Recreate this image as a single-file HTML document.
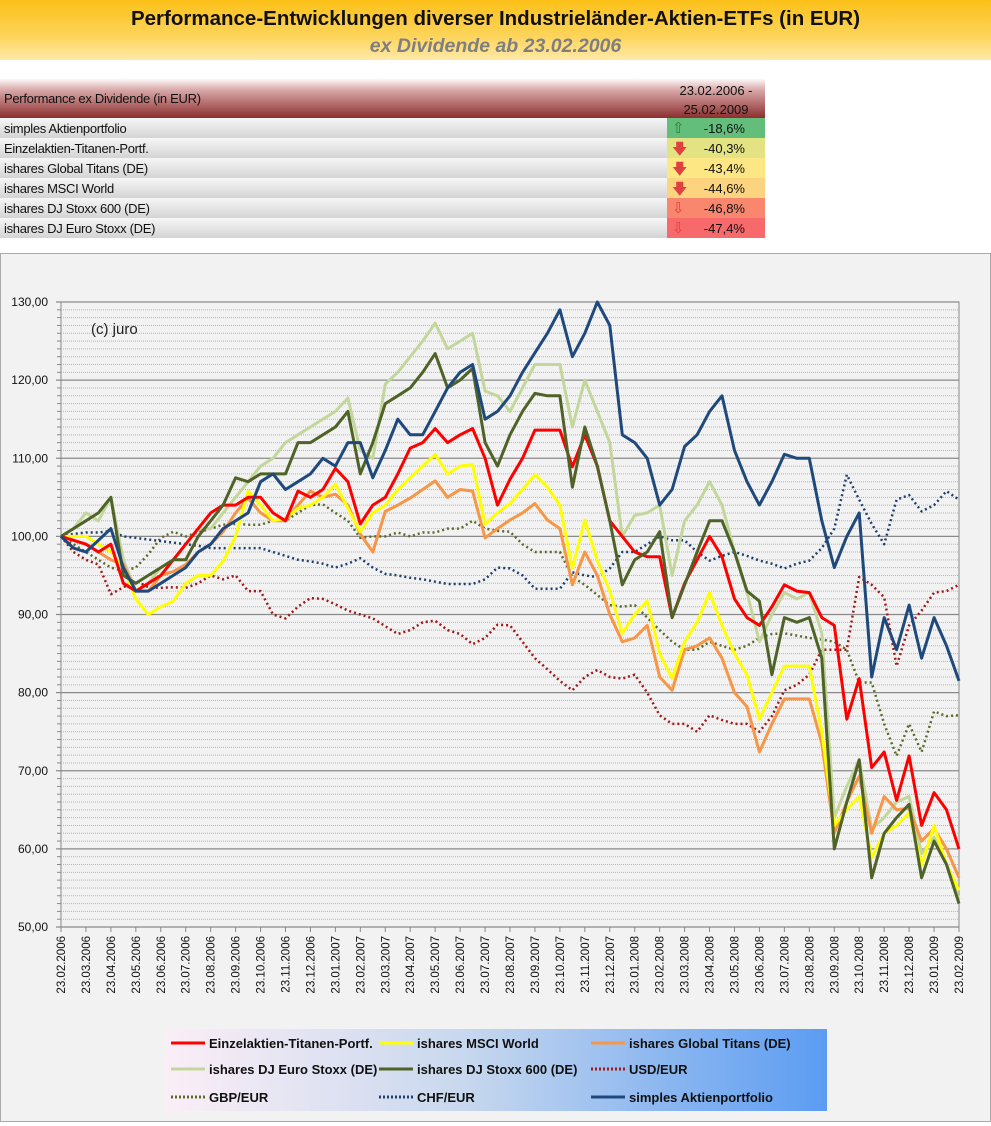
<!DOCTYPE html>
<html><head><meta charset="utf-8">
<style>
body{margin:0;width:991px;height:1122px;background:#fff;font-family:"Liberation Sans",sans-serif;position:relative;overflow:hidden}
#hdr{position:absolute;left:0;top:0;width:991px;height:60px;background:linear-gradient(#fcc018,#fdd45a 60%,#ffe9a8);text-align:center}
#hdr .t{position:absolute;left:0;right:0;top:7px;font-weight:bold;font-size:20.5px;color:#111}
#hdr .s{position:absolute;left:0;right:0;top:35px;font-weight:bold;font-style:italic;font-size:19.5px;color:#7f7f7f}
#tbl{position:absolute;left:0;top:78px;width:765px;font-size:13px;color:#111}
.hrow{height:40px;background:linear-gradient(#fff 0%,#d8a8a8 30%,#8c2e2e 100%);position:relative}
.row{height:20px;background:linear-gradient(#f6f6f6,#d4d4d4);position:relative;border-top:0}
.lab{position:absolute;left:4px;top:3px;letter-spacing:-0.3px}
.val{position:absolute;left:667px;width:98px;top:0;height:20px;text-align:right}
.val span{position:absolute;right:20px;top:3px}
.val i{position:absolute;left:5px;top:1px;font-style:normal;font-size:15px}
#chart{position:absolute;left:0;top:253px;width:989px;height:867px;background:#f2f2f2;border:1px solid #aaa}
</style></head><body>
<div id="hdr">
<div class="t">Performance-Entwicklungen diverser Industrieländer-Aktien-ETFs (in EUR)</div>
<div class="s">ex Dividende ab 23.02.2006</div>
</div>
<div id="tbl">
<div class="hrow"><div class="lab" style="top:13px">Performance ex Dividende (in EUR)</div><div style="position:absolute;left:667px;width:98px;top:3px;text-align:center;line-height:19px">23.02.2006 -<br>25.02.2009</div></div>
<div class="row"><div class="lab">simples Aktienportfolio</div><div class="val" style="background:#63be7b"><i style="color:#2e7d32">⇧</i><span>-18,6%</span></div></div>
<div class="row"><div class="lab">Einzelaktien-Titanen-Portf.</div><div class="val" style="background:#e3e383"><i style="color:#e04040">🡇</i><span>-40,3%</span></div></div>
<div class="row"><div class="lab">ishares Global Titans (DE)</div><div class="val" style="background:#fde784"><i style="color:#e04040">🡇</i><span>-43,4%</span></div></div>
<div class="row"><div class="lab">ishares MSCI World</div><div class="val" style="background:#fcd37f"><i style="color:#e04040">🡇</i><span>-44,6%</span></div></div>
<div class="row"><div class="lab">ishares DJ Stoxx 600 (DE)</div><div class="val" style="background:#f8876e"><i style="color:#e04040">⇩</i><span>-46,8%</span></div></div>
<div class="row"><div class="lab">ishares DJ Euro Stoxx (DE)</div><div class="val" style="background:#f8696b"><i style="color:#e04040">⇩</i><span>-47,4%</span></div></div>
</div>
<div id="chart">
<svg id="svg" width="989" height="867" xmlns="http://www.w3.org/2000/svg"></svg>
</div>
<script>
const dates=["23.02.2006","23.03.2006","23.04.2006","23.05.2006","23.06.2006","23.07.2006","23.08.2006","23.09.2006","23.10.2006","23.11.2006","23.12.2006","23.01.2007","23.02.2007","23.03.2007","23.04.2007","23.05.2007","23.06.2007","23.07.2007","23.08.2007","23.09.2007","23.10.2007","23.11.2007","23.12.2007","23.01.2008","23.02.2008","23.03.2008","23.04.2008","23.05.2008","23.06.2008","23.07.2008","23.08.2008","23.09.2008","23.10.2008","23.11.2008","23.12.2008","23.01.2009","23.02.2009"];
const yTicks=[50,60,70,80,90,100,110,120,130];
const usd=[100,98,97,96.4,92.6,93.5,94.3,93.5,93.4,93.5,93.4,94,95,94.5,95,93,93,90,89.5,91,92.1,92,91.3,90.5,90,89.5,88.5,87.5,88,89,89.2,88,87.5,86.2,87,88.7,88.6,86.5,84.4,83,81.5,80.3,82,82.9,82,81.8,82.3,80,77.1,76,76,75,77.1,76.5,76,76,75,77,80.3,81,82.3,85.5,85.5,85.5,94.8,93.8,92.2,83.4,88.6,90.5,92.8,93,93.8];
const gbp=[100,99,98,97,96,95.6,96,97.7,99.8,100.6,100,100.5,101,101.5,101.6,101.5,101.5,102,102,103,104,104.1,103,102,99.8,100,100,100.5,100,100.5,100.5,101,101,102,101,100.7,100.6,99,98,98,98,94.8,93.8,92.5,91.2,91,91.2,89.6,88,86.5,85.5,85.5,86.5,86,85.5,86,87,87.5,87.6,87.3,87,86.8,86.5,85.5,81.3,81.3,76,71.9,76,72.4,77.6,77,77.1];
const chf=[100,100.3,100.5,100.5,100.7,100,99.8,99.6,99.4,99.2,99,98.8,98.5,98.5,98.5,98.5,98.5,98,97.5,97,96.8,96.5,96,96.5,97.2,96,95.2,95,94.7,94.5,94.2,93.9,93.9,93.9,94.5,96,95.9,95,93.3,93.3,93.3,95.4,95,94.8,95.9,98,98,99,100,99.5,99.5,98,96.9,97.5,98,97.5,96.9,96.5,95.9,96.5,96.9,98.5,101,107.9,104.7,101.6,99,104.7,105.3,103.2,104,105.8,104.7];
const euroStoxx=[100,101,103,102,105,97,93,94,96,97,99,101,101,103,105,107,109,110,112,113,114,115,116,117.7,111,110,119.5,121,123,125,127.3,124,125,126,118.6,118,116,119,122,122,122,114,120,116,112,100,102.7,103,104,95,102,104,107,104,98,92.8,86.5,90,92.8,92,92.8,87.6,64,68,71.4,62.6,64,66,66.7,59.4,61.5,58,53.5];
const globalTitans=[100,99.5,99,98,97,96.4,93,93,95,95.5,96.4,98,99,100.6,103,104.9,103,102,102,104,105.8,105,105.4,104,100.3,98,103.2,104,104.9,106,107.1,105,106,105.8,99.8,101,102.1,103,104.2,102.1,101,93.8,98,95,90,86.5,87,88.6,82,80.3,85.5,86,87,84.4,80,78.2,72.4,76,79.2,79.2,79.2,73.5,62,66,69.3,62,66.7,65,65.2,61,62.6,60,56.3];
const msciWorld=[100,100,100,99,98,96,92,90,91,91.7,94,95,95,96.8,100,105.8,104,102,102.3,103.6,104,105,106.7,103.6,100.6,103,104,106,107.5,109,110.5,108,109,109.2,101.6,103,104.2,106,107.9,106.3,104,95.9,102.1,96.9,93,87.6,90,91.7,85,81.8,86.5,89,92.8,88.6,85,82.3,76.6,80,83.4,83.4,83.4,75,63,65,66.7,58.9,62,63,64.6,57.9,63,58,54.7];
const titanen=[100,99.5,99,98,99,94,93,94,95,97,99,101,103,104,104,105,105,103,102,105.8,105,106,108.7,107,101.6,104,105,108,111.3,112,113.8,112,113,113.8,110,104,107.3,110,113.6,113.6,113.6,108.9,113,109,102,100,98,97.4,97.4,89.6,94,97,100,97.4,92,89.6,88.6,91,93.8,93,92.8,89.6,88.6,76.6,81.8,70.4,72.4,66.2,71.9,63,67.2,65,60];
const stoxx600=[100,101,102,103,105,95,94,95,96,97,97,100,102,104,107.5,107,108,108,108,112,112,113,114,116,108,112,117,118,119,121,123.4,119,120,121.5,112,109,113,116,118.3,118,118,106.3,114,109,102,93.8,97,98,100.6,89.6,93.8,98,102,102,98,93,91.7,82.3,89.6,89,89.6,84.4,60,66,71.4,56.3,62,64,65.7,56.3,61,58,53];
const simples=[100,98.5,98,99.5,101,96,93,93,94,95,96,98,99,101,102,103,107,108,106,107,108,110,109,112,112,107.5,111,115,113,113,116,119,121,122,115,116,118,121,123.5,126,129,123,126,130,127,113,112,110,104,106,111.5,113,116,118,111,107,104,107,110.5,110,110,102,96,100,103,82,89.6,85.5,91.2,84.4,89.6,86,81.5];

const svg=document.getElementById('svg');
const NS='http://www.w3.org/2000/svg';
const X0=60,X1=958,Y0=48,Y1=673,VMIN=50,VMAX=130;
const yScale=v=>Y1-(v-VMIN)/(VMAX-VMIN)*(Y1-Y0);
const xScale=k=>X0+k/(usd.length-1)*(X1-X0);
function mk(t,a){const e=document.createElementNS(NS,t);for(const k in a)e.setAttribute(k,a[k]);svg.appendChild(e);return e;}
const pbg=mk('rect',{x:X0,y:Y0,width:X1-X0,height:Y1-Y0,fill:'#f2f2f2',stroke:'#888'});


for(let v=VMIN+1;v<VMAX;v++){if(v%10===0)continue;const y=yScale(v);
const g=mk('line',{x1:X0,x2:X1,y1:y,y2:y,stroke:'#b4b4b4','stroke-width':1,'stroke-dasharray':'1,1'});


const t=mk('line',{x1:X0-4,x2:X0,y1:y,y2:y,stroke:'#888'});

}
yTicks.forEach(v=>{const y=yScale(v);
const g=mk('line',{x1:X0-5,x2:X1,y1:y,y2:y,stroke:'#8a8a8a','stroke-width':1.2});


const t=mk('text',{x:47,y:y+4,'text-anchor':'end','font-size':'12','fill':'#111','font-family':'Liberation Sans, sans-serif'});
t.textContent=v.toFixed(2).replace('.',',');

});
dates.forEach((d,i)=>{const x=X0+i/(dates.length-1)*(X1-X0);
const tk=mk('line',{x1:x,x2:x,y1:Y1,y2:Y1+5,stroke:'#888'});


const t=mk('text',{x:0,y:0,transform:`translate(${x+4},${Y1+9}) rotate(-90)`,'text-anchor':'end','font-size':'11.5','fill':'#111','font-family':'Liberation Sans, sans-serif'});
t.textContent=d;

});
const cr=mk('text',{x:90,y:80,'font-size':'15','fill':'#222','font-family':'Liberation Sans, sans-serif'});
cr.textContent='(c) juro';


const series=[
 ['usd-eur-line',usd,'#a01818',true],
 ['gbp-eur-line',gbp,'#5a6b2a',true],
 ['chf-eur-line',chf,'#1f3f6e',true],
 ['euro-stoxx-line',euroStoxx,'#c3d69b',false],
 ['global-titans-line',globalTitans,'#f79646',false],
 ['msci-world-line',msciWorld,'#ffff00',false],
 ['titanen-line',titanen,'#ff0000',false],
 ['stoxx600-line',stoxx600,'#4f6228',false],
 ['simples-line',simples,'#1f497d',false]];
series.forEach(([n,arr,c,dot])=>{
 const d=arr.map((v,k)=>(k?'L':'M')+xScale(k).toFixed(1)+','+yScale(v).toFixed(1)).join('');
 const p=mk('path',{d:d,fill:'none',stroke:c,'stroke-width':dot?2.5:3,'stroke-linejoin':'round','stroke-dasharray':dot?'2,3':'none'});
 
 
});
const defs=mk('defs',{});
defs.innerHTML='<linearGradient id="lg" x1="0" x2="1"><stop offset="0" stop-color="#fbeef6"/><stop offset="0.45" stop-color="#c8d8ee"/><stop offset="1" stop-color="#5b9cf2"/></linearGradient>';
const lb=mk('rect',{x:165,y:775,width:661,height:82,fill:'url(#lg)'});


const leg=[['Einzelaktien-Titanen-Portf.','#ff0000',false,170,789],['ishares MSCI World','#ffff00',false,378,789],['ishares Global Titans (DE)','#f79646',false,590,789],
['ishares DJ Euro Stoxx (DE)','#c3d69b',false,170,815],['ishares DJ Stoxx 600 (DE)','#4f6228',false,378,815],['USD/EUR','#a01818',true,590,815],
['GBP/EUR','#5a6b2a',true,170,843],['CHF/EUR','#1f3f6e',true,378,843],['simples Aktienportfolio','#1f497d',false,590,843]];
leg.forEach(([t,c,dot,x,y])=>{
 const l=mk('line',{x1:x,x2:x+34,y1:y,y2:y,stroke:c,'stroke-width':3,'stroke-dasharray':dot?'2,2':'none'});
 
 
 const tx=mk('text',{x:x+38,y:y+5,'font-size':'13','font-weight':'bold','fill':'#111','font-family':'Liberation Sans, sans-serif'});
 tx.textContent=t;
 
 
});
</script>
</body></html>
